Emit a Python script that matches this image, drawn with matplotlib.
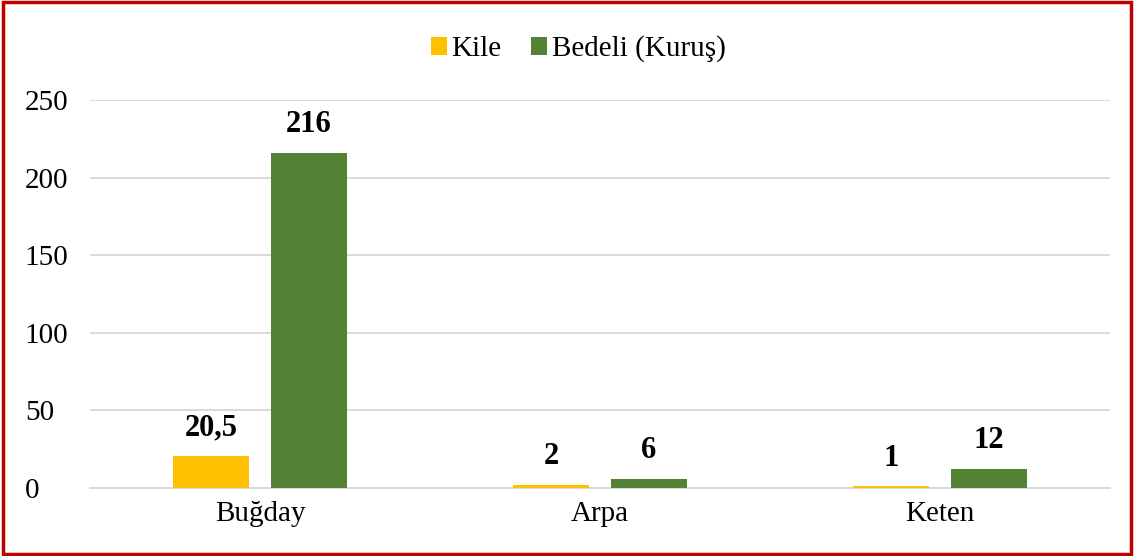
import matplotlib.pyplot as plt
import numpy as np
from matplotlib.patches import Rectangle

categories = ["Buğday", "Arpa", "Keten"]
kile = [20.5, 2, 1]
bedeli = [216, 6, 12]
kile_labels = ["20,5", "2", "1"]
bedeli_labels = ["216", "6", "12"]

plt.rcParams['font.family'] = ['Liberation Serif', 'DejaVu Serif']

fig = plt.figure(figsize=(11.34, 5.56), dpi=100)
ax = fig.add_axes([0.0794, 0.1223, 0.8994, 0.6978])

x = np.arange(len(categories))
w = 0.224
off = 0.144
b1 = ax.bar(x - off, kile, w, color="#FFC000", label="Kile", zorder=3)
b2 = ax.bar(x + off, bedeli, w, color="#548235", label="Bedeli (Kuruş)", zorder=3)

for bars, labs in ((b1, kile_labels), (b2, bedeli_labels)):
    for bar, lab in zip(bars, labs):
        ax.annotate(lab, (bar.get_x() + bar.get_width() / 2, bar.get_height()),
                    xytext=(0, 10), textcoords="offset points",
                    ha="center", va="bottom", fontsize=22, fontweight="bold")

ax.set_xlim(-0.5, 2.5)
ax.set_ylim(0, 250)
ax.set_yticks(range(0, 251, 50))
ax.set_xticks(x)
ax.set_xticklabels(categories)
ax.tick_params(axis="both", length=0, labelsize=21)
ax.tick_params(axis="x", pad=9)
ax.tick_params(axis="y", pad=47)
for lab in ax.get_yticklabels():
    lab.set_horizontalalignment("left")
ax.grid(axis="y", color="#D9D9D9", linewidth=1.4, zorder=0)
for s in ["top", "right", "left"]:
    ax.spines[s].set_visible(False)
ax.spines["bottom"].set_color("#D9D9D9")
ax.spines["bottom"].set_linewidth(1.4)

fig.legend(loc="center", bbox_to_anchor=(0.5097, 0.912), ncol=2, frameon=False,
           fontsize=21, handlelength=0.55, handleheight=0.55, handletextpad=0.15,
           columnspacing=1.03)

fig.patches.append(Rectangle((0.003, 0.004), 0.994, 0.992, transform=fig.transFigure,
                             fill=False, edgecolor="#C00000", linewidth=2.5))

fig.savefig("out.png", dpi=100)
